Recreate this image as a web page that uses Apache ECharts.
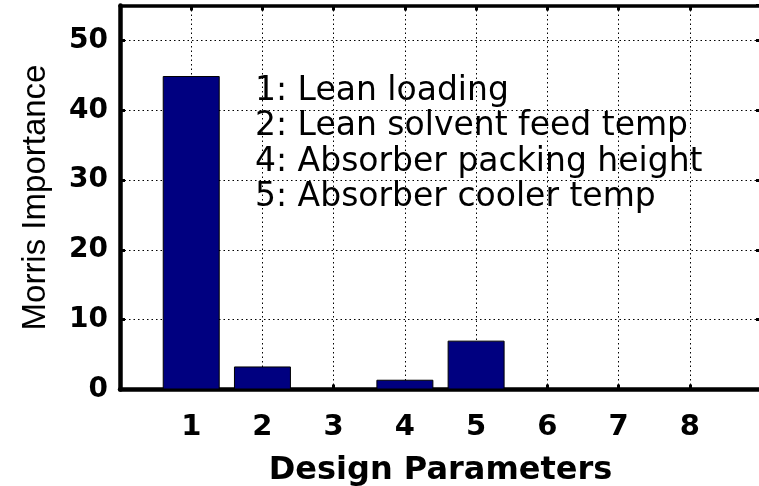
<!DOCTYPE html>
<html>
<head>
<meta charset="utf-8">
<script src="https://cdn.jsdelivr.net/npm/echarts@6/dist/echarts.min.js"></script>
<style>
html,body{margin:0;padding:0;background:#fff;}
#c{width:759px;height:486px;}
</style>
</head>
<body>
<div id="c"></div>
<script>
var categories = [1, 2, 3, 4, 5, 6, 7, 8];
var importance = [44.9, 3.3, 0, 1.4, 7.0, 0, 0, 0];
var yTicks = [0, 10, 20, 30, 40, 50];
var noteLines = ['1: Lean loading', '2: Lean solvent feed temp', '4: Absorber packing height', '5: Absorber cooler temp'];
var xTitle = 'Design Parameters';
var yTitle = 'Morris Importance';

var chart = echarts.init(document.getElementById('c'), null, {renderer: 'canvas'});
var gridLeft = 120, gridWidth = 641, gridTop = 5.5, gridBottom = 96.5;
var unitPx = gridWidth / 9;
var boldFont = 'DejaVu Sans';
var dotted = {type: [1.5, 3], color: '#000', width: 1};

var noteGraphics = noteLines.map(function (t, i) {
  return {
    type: 'text', left: 255, top: 75 + i * 35.3, z: 5,
    style: {text: t, font: '33px "DejaVu Sans"', fill: '#000'}
  };
});

chart.setOption({
  animation: false,
  backgroundColor: '#fff',
  grid: {left: gridLeft, width: gridWidth, top: gridTop, bottom: gridBottom, containLabel: false, outerBoundsMode: 'none'},
  xAxis: [{
    type: 'value', min: 0, max: 9, interval: 1, position: 'bottom',
    axisLine: {show: true, onZero: false, lineStyle: {color: '#000', width: 4.5}},
    axisTick: {show: true, inside: true, length: 5, lineStyle: {color: '#000', width: 3}},
    axisLabel: {
      margin: 23, color: '#000', fontFamily: boldFont, fontWeight: 'bold', fontSize: 29,
      showMinLabel: false, showMaxLabel: false,
      formatter: function (v) { return categories.indexOf(v) >= 0 ? String(v) : ''; }
    },
    splitLine: {show: true, lineStyle: dotted},
    name: xTitle, nameLocation: 'middle', nameGap: 65,
    nameTextStyle: {color: '#000', fontFamily: boldFont, fontWeight: 'bold', fontSize: 32}
  }, {
    type: 'value', min: 0, max: 9, interval: 1, position: 'top',
    axisLine: {show: true, onZero: false, lineStyle: {color: '#000', width: 3.5}},
    axisTick: {show: true, inside: true, length: 5, lineStyle: {color: '#000', width: 3}},
    axisLabel: {show: false}, splitLine: {show: false}
  }],
  yAxis: [{
    type: 'value', min: 0, max: 55, interval: 10, position: 'left',
    axisLine: {show: true, onZero: false, lineStyle: {color: '#000', width: 4.5}},
    axisTick: {show: true, inside: true, length: 5, lineStyle: {color: '#000', width: 3}},
    axisLabel: {
      margin: 12, color: '#000', fontFamily: boldFont, fontWeight: 'bold', fontSize: 28,
      showMaxLabel: false,
      formatter: function (v) { return yTicks.indexOf(v) >= 0 ? String(v) : ''; }
    },
    splitLine: {show: true, lineStyle: dotted},
    name: yTitle, nameLocation: 'middle', nameGap: 68,
    nameTextStyle: {color: '#000', fontFamily: 'Liberation Sans', fontSize: 33}
  }, {
    type: 'value', min: 0, max: 55, interval: 10, position: 'right',
    axisLine: {show: true, onZero: false, lineStyle: {color: '#000', width: 3}},
    axisTick: {show: true, inside: true, length: 5, lineStyle: {color: '#000', width: 3}},
    axisLabel: {show: false}, splitLine: {show: false}
  }],
  graphic: noteGraphics,
  series: [{
    type: 'bar', xAxisIndex: 0, yAxisIndex: 0,
    barWidth: unitPx * 0.8,
    itemStyle: {color: '#000080', borderColor: '#000', borderWidth: 1},
    data: categories.map(function (c, i) { return [c, importance[i]]; }),
    z: 3
  }]
});
</script>
</body>
</html>
